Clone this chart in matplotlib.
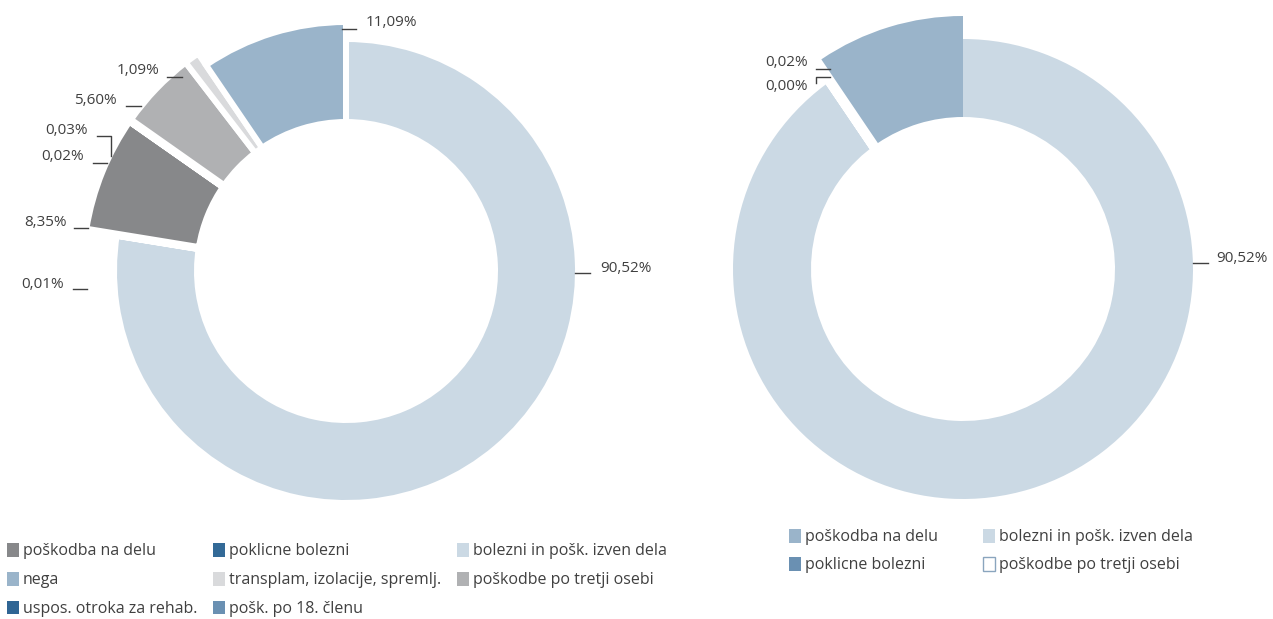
import matplotlib.pyplot as plt
from matplotlib.patches import Patch

plt.rcParams['font.family'] = ['Open Sans', 'DejaVu Sans']

# left ring, clockwise from the top
left_cats = ['bolezni in pošk. izven dela', 'pošk. po 18. členu', 'poškodba na delu',
             'poklicne bolezni', 'uspos. otroka za rehab.', 'poškodbe po tretji osebi',
             'transplam, izolacije, spremlj.', 'nega']
left_values = [90.52, 0.01, 8.35, 0.02, 0.03, 5.60, 1.09, 11.09]

# right ring, clockwise from the top
right_cats = ['bolezni in pošk. izven dela', 'poškodbe po tretji osebi',
              'poklicne bolezni', 'poškodba na delu']
right_values = [90.52, 0.00, 0.02, 9.46]
right_labelled = [True, True, True, False]

left_legend = ['poškodba na delu', 'poklicne bolezni', 'bolezni in pošk. izven dela',
               'nega', 'transplam, izolacije, spremlj.', 'poškodbe po tretji osebi',
               'uspos. otroka za rehab.', 'pošk. po 18. členu']
right_legend = ['poškodba na delu', 'bolezni in pošk. izven dela',
                'poklicne bolezni', 'poškodbe po tretji osebi']

left_colors = {
    'poškodba na delu': '#87888a',
    'poklicne bolezni': '#336a97',
    'bolezni in pošk. izven dela': '#cbd9e4',
    'nega': '#9ab4ca',
    'transplam, izolacije, spremlj.': '#d9dadc',
    'poškodbe po tretji osebi': '#b0b1b3',
    'uspos. otroka za rehab.': '#2f6594',
    'pošk. po 18. členu': '#6a90b2',
}
right_colors = {
    'poškodba na delu': '#9ab4ca',
    'bolezni in pošk. izven dela': '#cbd9e4',
    'poklicne bolezni': '#6a90b2',
    'poškodbe po tretji osebi': '#ffffff',
}

TXT = '#404040'
W, H = 1273, 619


def fy(y):
    return H - y


def pct(v):
    return f'{v:.2f}'.replace('.', ',') + '%'


fig = plt.figure(figsize=(12.73, 6.19), dpi=100)
ax = fig.add_axes([0, 0, 1, 1])

# left ring: outer radius / edge width (px) per slice
left_radius = [232, 263, 263, 263, 263, 263, 263, 249]
left_edge = [6, 10, 6, 10, 10, 6, 6, 6]
wl, _ = ax.pie(left_values, colors=[left_colors[c] for c in left_cats],
               startangle=90, counterclock=False, center=(346, fy(271)),
               radius=232, frame=True, wedgeprops=dict(edgecolor='white'))
for w, r, e in zip(wl, left_radius, left_edge):
    w.set_radius(r)
    w.set_width(r - 149)
    w.set_linewidth(e * 0.72)

right_radius = [230, 253, 253, 253]
right_edge = [0, 20, 20, 0]
wr, _ = ax.pie(right_values, colors=[right_colors[c] for c in right_cats],
               startangle=90, counterclock=False, center=(963, fy(269)),
               radius=230, frame=True, wedgeprops=dict(edgecolor='white'))
for w, r, e in zip(wr, right_radius, right_edge):
    w.set_radius(r)
    w.set_width(r - 152)
    w.set_linewidth(e * 0.72)

# value labels with short leader lines (text x, text y, alignment, line)
left_label_pos = [
    (600, 268, 'left', [(575, 273), (590, 273)]),
    (64, 284, 'right', [(73, 289), (87, 289)]),
    (67, 222, 'right', [(74, 228), (88, 228)]),
    (84, 156, 'right', [(93, 163), (107, 163)]),
    (88, 131, 'right', [(97, 136), (111, 136), (111, 156)]),
    (117, 100, 'right', [(126, 106), (141, 106)]),
    (159, 71, 'right', [(167, 77), (182, 77)]),
    (366, 22, 'left', [(342, 29), (356, 29)]),
]
right_label_pos = [
    (1216, 258, 'left', [(1193, 263), (1208, 263)]),
    (808, 86, 'right', [(816, 83), (816, 77), (830, 77)]),
    (808, 63, 'right', [(816, 69), (830, 69)]),
]

for v, (tx, ty, ha, line) in zip(left_values, left_label_pos):
    ax.text(tx, fy(ty), pct(v), ha=ha, va='center', fontsize=11, color=TXT)
    ax.plot([p[0] for p in line], [fy(p[1]) for p in line], color=TXT, lw=1)

shown = [v for v, s in zip(right_values, right_labelled) if s]
for v, (tx, ty, ha, line) in zip(shown, right_label_pos):
    ax.text(tx, fy(ty), pct(v), ha=ha, va='center', fontsize=11, color=TXT)
    ax.plot([p[0] for p in line], [fy(p[1]) for p in line], color=TXT, lw=1)

ax.set_xlim(0, W)
ax.set_ylim(0, H)
ax.axis('off')

# legends, handles listed column by column
lh = [Patch(facecolor=left_colors[c], edgecolor='none') for c in left_legend]
order = [0, 3, 6, 1, 4, 7, 2, 5]
fig.legend([lh[i] for i in order], [left_legend[i] for i in order],
           loc='upper left', bbox_to_anchor=(7 / W, 1 - 543 / H), ncol=3,
           frameon=False, fontsize=11.5, labelcolor=TXT, handlelength=0.75,
           handleheight=0.95, handletextpad=0.25, labelspacing=0.78,
           columnspacing=1.0, borderaxespad=0, borderpad=0)

rh = [Patch(facecolor=right_colors[c],
            edgecolor='#8aa5be' if c == 'poškodbe po tretji osebi' else 'none')
      for c in right_legend]
order = [0, 2, 1, 3]
fig.legend([rh[i] for i in order], [right_legend[i] for i in order],
           loc='upper left', bbox_to_anchor=(789 / W, 1 - 529 / H), ncol=2,
           frameon=False, fontsize=11.5, labelcolor=TXT, handlelength=0.75,
           handleheight=0.95, handletextpad=0.25, labelspacing=0.72,
           columnspacing=2.85, borderaxespad=0, borderpad=0)

fig.savefig('out.png', dpi=100, facecolor='white')
